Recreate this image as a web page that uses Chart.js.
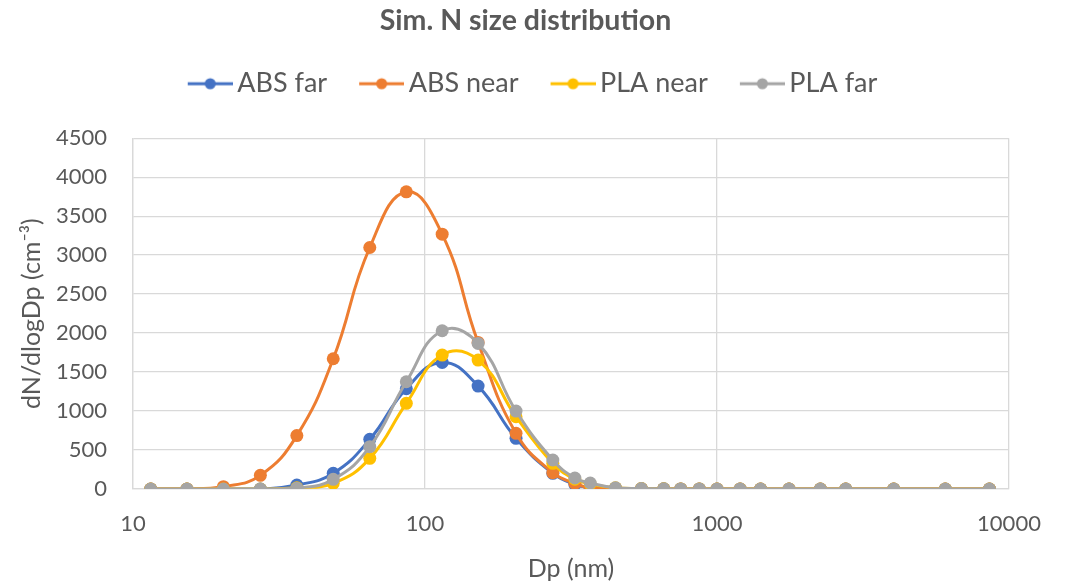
<!DOCTYPE html>
<html>
<head>
<meta charset="utf-8">
<script src="https://cdn.jsdelivr.net/npm/chart.js@4"></script>
<style>
  html, body { margin: 0; padding: 0; background: #fff; }
  #wrap { width: 1068px; height: 583px; }
</style>
</head>
<body>
<div id="wrap"><canvas id="chart" width="1068" height="583"></canvas></div>
<script>
// particle diameter (nm)
const dp = [11.5, 15.3, 20.4, 27.3, 36.4, 48.5, 64.7, 86.3, 114.5, 152, 205, 274, 326, 368,
  449, 551, 657, 751, 870, 1000, 1200, 1410, 1765, 2260, 2760, 4030, 6050, 8570];

const absFar = [0, 0, 0, 0, 51, 201, 637, 1286, 1624, 1320, 650, 201, 60, 20,
  8, 3, 2, 1, 1, 0, 0, 0, 0, 0, 0, 0, 0, 0];
const absNear = [0, 0, 30, 175, 685, 1671, 3098, 3812, 3269, 1880, 714, 209, 73, 13,
  5, 2, 1, 1, 0, 0, 0, 0, 0, 0, 0, 0, 0, 0];
const plaNear = [0, 0, 0, 0, 15, 73, 393, 1099, 1718, 1654, 927, 329, 125, 65,
  15, 5, 2, 1, 1, 0, 0, 0, 0, 0, 0, 0, 0, 0];
const plaFar = [0, 0, 0, 0, 10, 124, 543, 1376, 2030, 1868, 1000, 372, 141, 77,
  15, 5, 2, 1, 1, 0, 0, 0, 0, 0, 0, 0, 0, 0];

const seriesNames = ['ABS far', 'ABS near', 'PLA near', 'PLA far'];
const seriesColors = ['#4472C4', '#ED7D31', '#FFC000', '#A5A5A5'];
const seriesData = [absFar, absNear, plaNear, plaFar];
const xTicks = [10, 100, 1000, 10000];

const textColor = '#595959';
const gridColor = '#d9d9d9';
const fontFamily = 'Lato, "Open Sans", sans-serif';

// line+dot image for the legend (line sits in the right part of the image)
function legendMark(color) {
  const c = document.createElement('canvas');
  c.width = 68; c.height = 14;
  const g = c.getContext('2d');
  g.strokeStyle = color;
  g.lineWidth = 3;
  g.beginPath(); g.moveTo(23, 7); g.lineTo(68, 7); g.stroke();
  g.fillStyle = color;
  g.beginPath(); g.arc(45.5, 7, 5.5, 0, Math.PI * 2); g.fill();
  return c;
}

const datasets = seriesNames.map((name, i) => ({
  label: name,
  data: dp.map((x, j) => ({ x: x, y: seriesData[i][j] })),
  borderColor: seriesColors[i],
  backgroundColor: seriesColors[i],
  borderWidth: 3,
  pointRadius: 6.5,
  pointBorderWidth: 0,
  tension: 0.45,
  order: 4 - i,
  legendMark: legendMark(seriesColors[i])
}));

new Chart(document.getElementById('chart'), {
  type: 'line',
  data: { datasets: datasets },
  options: {
    responsive: false,
    animation: false,
    layout: { padding: { left: 14, right: 31, top: 0, bottom: 0 } },
    plugins: {
      title: {
        display: true,
        text: 'Sim. N size distribution',
        color: textColor,
        font: { family: fontFamily, size: 28.5, weight: 'bold' },
        padding: { top: 4, bottom: 14 }
      },
      // empty subtitle used as a gap under the legend
      subtitle: {
        display: true,
        text: '',
        weight: 500,
        font: { size: 10 },
        padding: { top: 0, bottom: 19 }
      },
      legend: {
        position: 'top',
        labels: {
          color: textColor,
          font: { family: fontFamily, size: 27 },
          usePointStyle: true,
          pointStyleWidth: 50,
          padding: 18,
          sort: (a, b) => a.datasetIndex - b.datasetIndex,
          generateLabels: (chart) => {
            const items = Chart.defaults.plugins.legend.labels.generateLabels(chart);
            items.forEach(it => {
              it.pointStyle = chart.data.datasets[it.datasetIndex].legendMark;
            });
            return items;
          }
        }
      },
      tooltip: { enabled: false }
    },
    scales: {
      x: {
        type: 'logarithmic',
        min: 10,
        max: 10000,
        afterBuildTicks: (scale) => {
          scale.ticks = xTicks.map(v => ({ value: v }));
        },
        afterFit: (scale) => { scale.height = 94; },
        ticks: {
          color: textColor,
          font: { family: fontFamily, size: 22 },
          padding: 22,
          maxRotation: 0,
          callback: (v) => String(v)
        },
        grid: { color: gridColor, lineWidth: 1.3, drawTicks: false },
        border: { color: gridColor, width: 1.3 },
        title: {
          display: true,
          text: 'Dp (nm)',
          color: textColor,
          font: { family: fontFamily, size: 25 },
          padding: { top: 8, bottom: -1 }
        }
      },
      y: {
        min: 0,
        max: 4500,
        afterFit: (scale) => { scale.width = 119; },
        ticks: {
          stepSize: 500,
          color: textColor,
          font: { family: fontFamily, size: 22 },
          padding: 26,
          callback: (v) => String(v)
        },
        grid: { color: gridColor, lineWidth: 1.3, drawTicks: false },
        border: { color: gridColor, width: 1.3 },
        title: {
          display: true,
          text: 'dN/dlogDp (cm⁻³)',
          color: textColor,
          font: { family: fontFamily, size: 25 },
          padding: { top: 3, bottom: 6 }
        }
      },
      // empty right axis, only keeps the plot clear of the right edge
      yGap: {
        position: 'right',
        display: true,
        afterFit: (scale) => { scale.width = 28; },
        grid: { display: false },
        border: { display: false },
        ticks: { display: false }
      }
    }
  }
});
</script>
</body>
</html>
